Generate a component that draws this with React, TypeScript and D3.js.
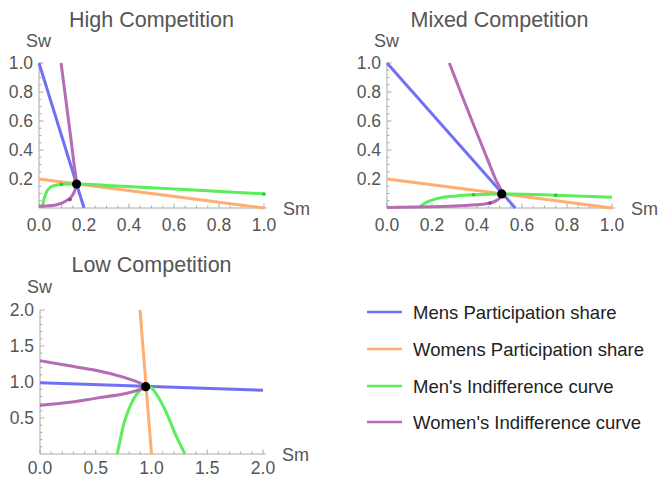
import React from "react";
import * as d3 from "d3";

// ---------- DATA ----------
const titles = ["High Competition", "Mixed Competition", "Low Competition"];
const legendLabels = [
  "Mens Participation share",
  "Womens Participation share",
  "Men's Indifference curve",
  "Women's Indifference curve",
];

// High competition
const highMen: [number, number][] = [[0, 1], [0.2, 0]];
const highWomen: [number, number][] = [[0, 0.2], [1, 0]];
const highMenIC: [number, number][] = [
  [0.015, 0], [0.018, 0.03], [0.022, 0.06], [0.028, 0.09], [0.037, 0.12],
  [0.05, 0.142], [0.07, 0.155], [0.1, 0.163], [0.167, 0.166], [0.3, 0.156],
  [0.5, 0.14], [0.75, 0.119], [1.0, 0.097],
];
const highWomenIC: [number, number][] = [
  [0, 0.012], [0.03, 0.013], [0.06, 0.018], [0.09, 0.028], [0.11, 0.04],
  [0.13, 0.058], [0.145, 0.08], [0.155, 0.105], [0.161, 0.13], [0.166, 0.166],
  [0.156, 0.3], [0.14, 0.5], [0.119, 0.75], [0.098, 1.0],
];
const highEq: [number, number] = [0.167, 0.165];
const highMarks: [number, number, string][] = [[0.1, 0.163, "g"], [1.0, 0.097, "g"], [0.138, 0.058, "p"]];

// Mixed competition
const mixedMen: [number, number][] = [[0, 1], [0.57, 0]];
const mixedWomen: [number, number][] = [[0, 0.2], [1, 0]];
const mixedMenIC: [number, number][] = [
  [0.139, 0], [0.17, 0.035], [0.22, 0.064], [0.31, 0.083], [0.384, 0.091],
  [0.51, 0.097], [0.75, 0.088], [1.0, 0.074],
];
const mixedWomenIC: [number, number][] = [
  [0, 0.004], [0.2, 0.008], [0.3, 0.013], [0.4, 0.022], [0.458, 0.035],
  [0.49, 0.055], [0.505, 0.075], [0.51, 0.097], [0.482, 0.2], [0.43, 0.4],
  [0.378, 0.6], [0.327, 0.8], [0.277, 1.0],
];
const mixedEq: [number, number] = [0.51, 0.097];
const mixedMarks: [number, number, string][] = [[0.384, 0.091, "g"], [0.75, 0.088, "g"], [0.458, 0.035, "p"]];

// Low competition
const lowMen: [number, number][] = [[0, 0.99], [2, 0.885]];
const lowWomen: [number, number][] = [[0.897, 2.0], [1.0, 0]];
const lowMenIC: [number, number][] = [
  [0.693, 0], [0.72, 0.2], [0.745, 0.38], [0.775, 0.53], [0.81, 0.67],
  [0.85, 0.79], [0.895, 0.88], [0.93, 0.925], [0.965, 0.94], [1.0, 0.92],
  [1.04, 0.84], [1.08, 0.74], [1.12, 0.62], [1.165, 0.46], [1.21, 0.29],
  [1.255, 0.14], [1.3, 0],
];
const lowWomenIC: [number, number][] = [
  [0, 0.675], [0.209, 0.707], [0.508, 0.776], [0.747, 0.832], [0.867, 0.882],
  [0.948, 0.935], [0.897, 0.985], [0.747, 1.068], [0.508, 1.16], [0.209, 1.24],
  [0, 1.296],
];
const lowEq: [number, number] = [0.948, 0.935];
const lowMarks: [number, number, string][] = [];

const highXTicks = [0, 0.2, 0.4, 0.6, 0.8, 1.0];
const highYTicks = [0.2, 0.4, 0.6, 0.8, 1.0];
const lowXTicks = [0, 0.5, 1.0, 1.5, 2.0];
const lowYTicks = [0.5, 1.0, 1.5, 2.0];

// ---------- STYLE / LAYOUT ----------
const COLORS = {
  men: "#7070f4",
  women: "#ffae70",
  menIC: "#5aee5a",
  womenIC: "#b46cb4",
};
const FONT = "'Liberation Sans', Arial, Helvetica, sans-serif";
const TEXT_GRAY = "#555555";
const AXIS_GRAY = "#aaaaaa";

type Panel = {
  title: string;
  xDomain: [number, number];
  yDomain: [number, number];
  xRange: [number, number];
  yRange: [number, number];
  xTicks: number[];
  yTicks: number[];
  minor: number;
  men: [number, number][];
  women: [number, number][];
  menIC: [number, number][];
  womenIC: [number, number][];
  eq: [number, number];
  marks: [number, number, string][];
  titleY: number;
  swY: number;
  xLabelOffset: number;
};

const panels: Panel[] = [
  {
    title: titles[0], xDomain: [0, 1], yDomain: [0, 1], xRange: [39, 264], yRange: [208, 63],
    xTicks: highXTicks, yTicks: highYTicks, minor: 0.05,
    men: highMen, women: highWomen, menIC: highMenIC, womenIC: highWomenIC, eq: highEq, marks: highMarks,
    titleY: 27, swY: 47, xLabelOffset: 23,
  },
  {
    title: titles[1], xDomain: [0, 1], yDomain: [0, 1], xRange: [387, 612], yRange: [208, 63],
    xTicks: highXTicks, yTicks: highYTicks, minor: 0.05,
    men: mixedMen, women: mixedWomen, menIC: mixedMenIC, womenIC: mixedWomenIC, eq: mixedEq, marks: mixedMarks,
    titleY: 27, swY: 47, xLabelOffset: 23,
  },
  {
    title: titles[2], xDomain: [0, 2], yDomain: [0, 2], xRange: [40, 263], yRange: [454, 310],
    xTicks: lowXTicks, yTicks: lowYTicks, minor: 0.1,
    men: lowMen, women: lowWomen, menIC: lowMenIC, womenIC: lowWomenIC, eq: lowEq, marks: lowMarks,
    titleY: 272, swY: 293, xLabelOffset: 20,
  },
];

function PanelView({ p }: { p: Panel }) {
  const x = d3.scaleLinear().domain(p.xDomain).range(p.xRange);
  const y = d3.scaleLinear().domain(p.yDomain).range(p.yRange);
  const straight = d3.line<[number, number]>().x((d) => x(d[0])).y((d) => y(d[1]));
  const smoothX = d3
    .line<[number, number]>()
    .x((d) => x(d[0]))
    .y((d) => y(d[1]))
    .curve(d3.curveMonotoneX);
  const smoothY = d3
    .line<[number, number]>()
    .x((d) => x(d[0]))
    .y((d) => y(d[1]))
    .curve(d3.curveMonotoneY);

  const x0 = x(0);
  const y0 = y(0);
  const nX = Math.round((p.xDomain[1] - p.xDomain[0]) / p.minor);
  const nY = Math.round((p.yDomain[1] - p.yDomain[0]) / p.minor);
  const xMinor = d3.range(0, nX + 1).map((i) => p.xDomain[0] + i * p.minor);
  const yMinor = d3.range(1, nY + 1).map((i) => p.yDomain[0] + i * p.minor);
  const isMajor = (v: number, ticks: number[]) => ticks.some((t) => Math.abs(t - v) < 1e-6);
  const titleX = (p.xRange[0] + p.xRange[1]) / 2;
  const fmt = d3.format(".1f");
  const xEnd = x(p.xDomain[1]) + 3;

  return (
    <g>
      <text x={titleX} y={p.titleY} textAnchor="middle" fontSize={21.5} fill={TEXT_GRAY} fontFamily={FONT}>
        {p.title}
      </text>
      {/* axes */}
      <line x1={x0} x2={xEnd} y1={y0} y2={y0} stroke={AXIS_GRAY} strokeWidth={1} />
      <line x1={x0} x2={x0} y1={y0} y2={y(p.yDomain[1])} stroke={AXIS_GRAY} strokeWidth={1} />
      {xMinor.map((v, i) => {
        const major = isMajor(v, p.xTicks);
        return (
          <line key={"xm" + i} x1={x(v)} x2={x(v)} y1={y0} y2={y0 - (major ? 4.5 : 2.5)} stroke={AXIS_GRAY} strokeWidth={1} />
        );
      })}
      {yMinor.map((v, i) => {
        const major = isMajor(v, p.yTicks);
        return (
          <line key={"ym" + i} x1={x0} x2={x0 + (major ? 4.5 : 2.5)} y1={y(v)} y2={y(v)} stroke={AXIS_GRAY} strokeWidth={1} />
        );
      })}
      {p.xTicks.map((v) => (
        <text key={"xt" + v} x={x(v)} y={y0 + p.xLabelOffset} textAnchor="middle" fontSize={17.5} fill={TEXT_GRAY} fontFamily={FONT}>
          {fmt(v)}
        </text>
      ))}
      {p.yTicks.map((v) => (
        <text key={"yt" + v} x={x0 - 6} y={y(v) + 6} textAnchor="end" fontSize={17.5} fill={TEXT_GRAY} fontFamily={FONT}>
          {fmt(v)}
        </text>
      ))}
      <text x={x0 - 13} y={p.swY} fontSize={18} fill={TEXT_GRAY} fontFamily={FONT}>
        Sw
      </text>
      <text x={x(p.xDomain[1]) + 19} y={y0 + 7} fontSize={18} fill={TEXT_GRAY} fontFamily={FONT}>
        Sm
      </text>
      {/* curves */}
      <path d={straight(p.women) || ""} fill="none" stroke={COLORS.women} strokeWidth={3} />
      <path d={straight(p.men) || ""} fill="none" stroke={COLORS.men} strokeWidth={3} />
      <path d={smoothX(p.menIC) || ""} fill="none" stroke={COLORS.menIC} strokeWidth={3} strokeLinejoin="round" />
      <path d={smoothY(p.womenIC) || ""} fill="none" stroke={COLORS.womenIC} strokeWidth={3} strokeLinejoin="round" />
      {p.marks.map((m, i) => (
        <circle key={"mk" + i} cx={x(m[0])} cy={y(m[1])} r={1.8} fill={m[2] === "g" ? "#22cc22" : "#8c3c8c"} />
      ))}
      <circle cx={x(p.eq[0])} cy={y(p.eq[1])} r={4.6} fill="#000" />
    </g>
  );
}

export default function App() {
  const legendColors = [COLORS.men, COLORS.women, COLORS.menIC, COLORS.womenIC];
  const legendY = [312, 349, 386, 422];
  return (
    <svg
      width={658}
      height={479}
      style={{ position: "absolute", left: 0, top: 0, background: "#fff" }}
    >
      <rect x={0} y={0} width={658} height={479} fill="#fff" />
      {panels.map((p, i) => (
        <PanelView key={i} p={p} />
      ))}
      {legendLabels.map((l, i) => (
        <g key={l}>
          <line x1={367} x2={402} y1={legendY[i]} y2={legendY[i]} stroke={legendColors[i]} strokeWidth={2.5} />
          <text x={413} y={legendY[i] + 6.5} fontSize={18.5} fill="#222" fontFamily={FONT}>
            {l}
          </text>
        </g>
      ))}
    </svg>
  );
}
